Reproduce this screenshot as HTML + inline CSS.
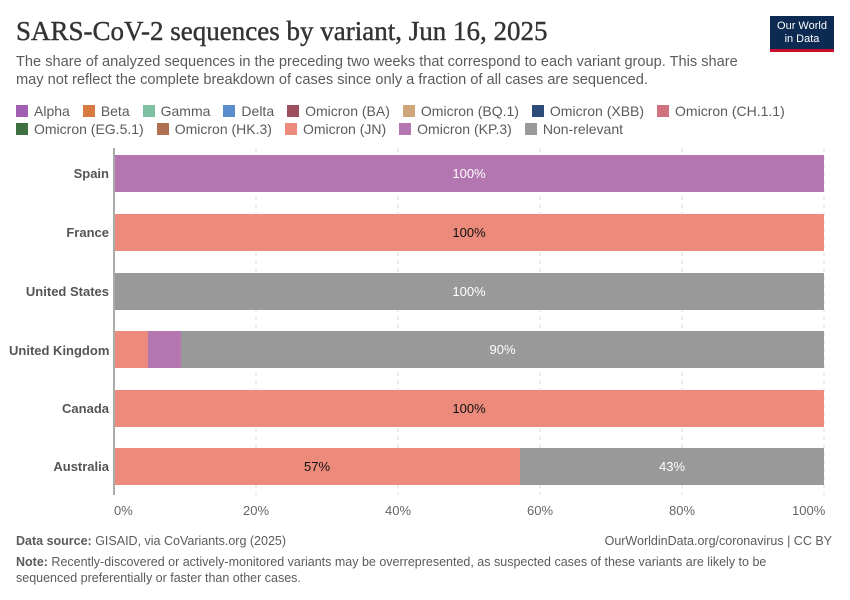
<!DOCTYPE html>
<html><head><meta charset="utf-8"><style>
body{margin:0;width:850px;height:600px;background:#fff;font-family:"Liberation Sans",sans-serif;position:relative;overflow:hidden}
.a{position:absolute;white-space:nowrap}
.t{left:16px;top:16px;font-family:"Liberation Serif",serif;font-size:27px;color:#333;letter-spacing:0px;-webkit-text-stroke:0.4px #333}
.s{left:16px;top:53px;font-size:14.6px;color:#5b5b5b;line-height:18px}
.lg{font-size:14px;color:#5b5b5b}
.lg i{display:inline-block;width:12px;height:12px;vertical-align:-1px;margin-right:6px}
.lg span{margin-right:13px}
.c{font-size:13px;font-weight:bold;color:#555;text-align:right;width:100px;left:9px}
.bar{position:absolute;height:37px}
.v{position:absolute;font-size:13px;text-align:center;line-height:37px}
.x{font-size:13px;color:#666;top:503px}
.f{font-size:12.5px;color:#5b5b5b}
</style></head><body>
<div class="a t">SARS-CoV-2 sequences by variant, Jun 16, 2025</div>
<div class="a s">The share of analyzed sequences in the preceding two weeks that correspond to each variant group. This share<br>may not reflect the complete breakdown of cases since only a fraction of all cases are sequenced.</div>
<div class="a" style="left:770px;top:16px;width:64px;height:36px;background:#0d2a52;border-bottom:3px solid #c8102e;color:#fff;font-size:11px;text-align:center;line-height:13px;box-sizing:border-box;padding-top:4px">Our World<br>in Data</div>
<div class="a lg" style="left:16px;top:103px"><span><i style="background:#a05fb3"></i>Alpha</span><span><i style="background:#d87a40"></i>Beta</span><span><i style="background:#7fc0a3"></i>Gamma</span><span><i style="background:#5b8dcc"></i>Delta</span><span><i style="background:#9e4f5e"></i>Omicron (BA)</span><span><i style="background:#cfa57a"></i>Omicron (BQ.1)</span><span><i style="background:#2e4c78"></i>Omicron (XBB)</span><span><i style="background:#d0717f"></i>Omicron (CH.1.1)</span></div>
<div class="a lg" style="left:16px;top:121px"><span><i style="background:#3f7040"></i>Omicron (EG.5.1)</span><span><i style="background:#b07052"></i>Omicron (HK.3)</span><span><i style="background:#ec8b7b"></i>Omicron (JN)</span><span><i style="background:#b376b0"></i>Omicron (KP.3)</span><span><i style="background:#999"></i>Non-relevant</span></div>
<svg class="a" style="left:0;top:0" width="850" height="600">
<g stroke="#ddd" stroke-dasharray="4,4"><line x1="256" y1="148" x2="256" y2="495"/><line x1="398" y1="148" x2="398" y2="495"/><line x1="540" y1="148" x2="540" y2="495"/><line x1="682" y1="148" x2="682" y2="495"/><line x1="824" y1="148" x2="824" y2="495"/></g>
</svg>
<div class="bar" style="left:114px;top:155px;width:710px;background:#b376b0"></div>
<div class="bar" style="left:114px;top:214px;width:710px;background:#ec8b7b"></div>
<div class="bar" style="left:114px;top:273px;width:710px;background:#999"></div>
<div class="bar" style="left:114px;top:331px;width:34px;background:#ec8b7b"></div>
<div class="bar" style="left:148px;top:331px;width:33px;background:#b376b0"></div>
<div class="bar" style="left:181px;top:331px;width:643px;background:#999"></div>
<div class="bar" style="left:114px;top:390px;width:710px;background:#ec8b7b"></div>
<div class="bar" style="left:114px;top:448px;width:406px;background:#ec8b7b"></div>
<div class="bar" style="left:520px;top:448px;width:304px;background:#999"></div>
<div class="a" style="left:113px;top:148px;width:2px;height:347px;background:#aaa"></div>
<div class="v" style="left:114px;top:155px;width:710px;color:#fff">100%</div>
<div class="v" style="left:114px;top:214px;width:710px;color:#111">100%</div>
<div class="v" style="left:114px;top:273px;width:710px;color:#fff">100%</div>
<div class="v" style="left:181px;top:331px;width:643px;color:#fff">90%</div>
<div class="v" style="left:114px;top:390px;width:710px;color:#111">100%</div>
<div class="v" style="left:114px;top:448px;width:406px;color:#111">57%</div>
<div class="v" style="left:520px;top:448px;width:304px;color:#fff">43%</div>
<div class="a c" style="top:166px">Spain</div>
<div class="a c" style="top:225px">France</div>
<div class="a c" style="top:284px">United States</div>
<div class="a c" style="top:343px">United Kingdom</div>
<div class="a c" style="top:401px">Canada</div>
<div class="a c" style="top:459px">Australia</div>
<div class="a x" style="left:114px">0%</div>
<div class="a x" style="left:243px">20%</div>
<div class="a x" style="left:385px">40%</div>
<div class="a x" style="left:527px">60%</div>
<div class="a x" style="left:669px">80%</div>
<div class="a x" style="left:792px">100%</div>
<div class="a f" style="left:16px;top:534px"><b>Data source:</b> GISAID, via CoVariants.org (2025)</div>
<div class="a f" style="right:18px;top:534px">OurWorldinData.org/coronavirus | CC BY</div>
<div class="a f" style="left:16px;top:554px;line-height:16px"><b>Note:</b> Recently-discovered or actively-monitored variants may be overrepresented, as suspected cases of these variants are likely to be<br>sequenced preferentially or faster than other cases.</div>
</body></html>
